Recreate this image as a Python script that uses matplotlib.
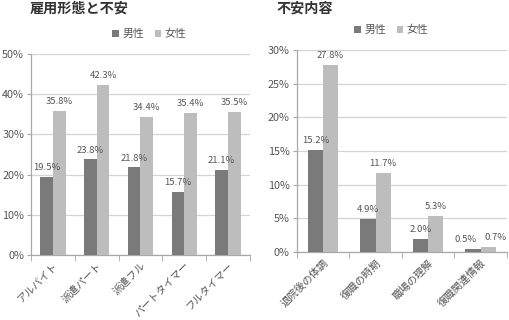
import matplotlib
matplotlib.use("Agg")
import matplotlib.pyplot as plt
import numpy as np
from matplotlib.ticker import FuncFormatter, FixedLocator

plt.rcParams['font.family'] = ['Noto Sans CJK JP', 'DejaVu Sans']

# Data
cats1 = ["アルバイト", "派遣パート", "派遣フル", "パートタイマー", "フルタイマー"]
male1 = [19.5, 23.8, 21.8, 15.7, 21.1]
female1 = [35.8, 42.3, 34.4, 35.4, 35.5]

cats2 = ["退院後の体調", "復職の時期", "職場の理解", "復職関連情報"]
male2 = [15.2, 4.9, 2.0, 0.5]
female2 = [27.8, 11.7, 5.3, 0.7]

series_names = ["男性", "女性"]
title1 = "雇用形態と不安"
title2 = "不安内容"

C_MALE = "#7a7a7a"
C_FEMALE = "#bdbdbd"
C_GRID = "#d4d4d4"
C_TEXT = "#555555"

fig = plt.figure(figsize=(5.09, 3.2), dpi=100)

def draw(ax, cats, m, f, ymax, ystep, bw, leg_x):
    n = len(cats)
    x = np.arange(n)
    ax.bar(x - bw/2, m, bw, color=C_MALE, label=series_names[0], zorder=3)
    ax.bar(x + bw/2, f, bw, color=C_FEMALE, label=series_names[1], zorder=3)
    for xi, vm, vf in zip(x, m, f):
        # spread labels apart when both bars are very short and close in height
        spread = 5.5 if abs(vm - vf) < ymax * 0.03 else 0
        ax.annotate(f"{vm:.1f}%", (xi - bw/2, vm), xytext=(-spread, 3.5),
                    textcoords='offset points', ha='center', va='bottom',
                    fontsize=6.8, color=C_TEXT, zorder=4)
        ax.annotate(f"{vf:.1f}%", (xi + bw/2, vf), xytext=(spread, 3.5),
                    textcoords='offset points', ha='center', va='bottom',
                    fontsize=6.8, color=C_TEXT, zorder=4)
    ax.set_xlim(-0.5, n - 0.5)
    ax.set_ylim(0, ymax)
    ax.set_yticks(np.arange(0, ymax + 0.01, ystep))
    ax.yaxis.set_major_formatter(FuncFormatter(lambda v, p: f"{v:.0f}%"))
    ax.yaxis.grid(True, color=C_GRID, linewidth=0.9, zorder=0)
    ax.set_axisbelow(True)
    for s in ['top', 'right']:
        ax.spines[s].set_visible(False)
    for s in ['left', 'bottom']:
        ax.spines[s].set_color("#a8a8a8")
        ax.spines[s].set_linewidth(0.9)
    ax.tick_params(axis='y', length=3, color="#a8a8a8", labelsize=7.8, labelcolor=C_TEXT, pad=2)
    ax.set_xticks(x)
    ax.set_xticklabels(cats, rotation=45, ha='right', rotation_mode='anchor',
                       fontsize=7.5, color=C_TEXT)
    ax.tick_params(axis='x', length=0, pad=4)
    ax.xaxis.set_minor_locator(FixedLocator(np.arange(-0.5, n, 1.0)))
    ax.tick_params(axis='x', which='minor', length=4, color="#a8a8a8")
    leg = ax.legend(loc='center', bbox_to_anchor=(leg_x, 1.1), ncol=2, frameon=False,
                    fontsize=7.8, handlelength=0.6, handleheight=0.6, handletextpad=0.3,
                    columnspacing=1.0, borderaxespad=0)
    for t in leg.get_texts():
        t.set_color(C_TEXT)

ax1 = fig.add_axes([0.061, 0.203, 0.430, 0.628])
draw(ax1, cats1, male1, female1, 50, 10, 0.29, 0.54)
ax2 = fig.add_axes([0.583, 0.2125, 0.413, 0.6315])
draw(ax2, cats2, male2, female2, 30, 5, 0.29, 0.45)

fig.text(30/509, 1 - 8.5/320, title1, fontsize=10.2, fontweight='bold', color="#333333",
         ha='left', va='center')
fig.text(277/509, 1 - 8.5/320, title2, fontsize=10.2, fontweight='bold', color="#333333",
         ha='left', va='center')

fig.savefig("out.png", dpi=100)
